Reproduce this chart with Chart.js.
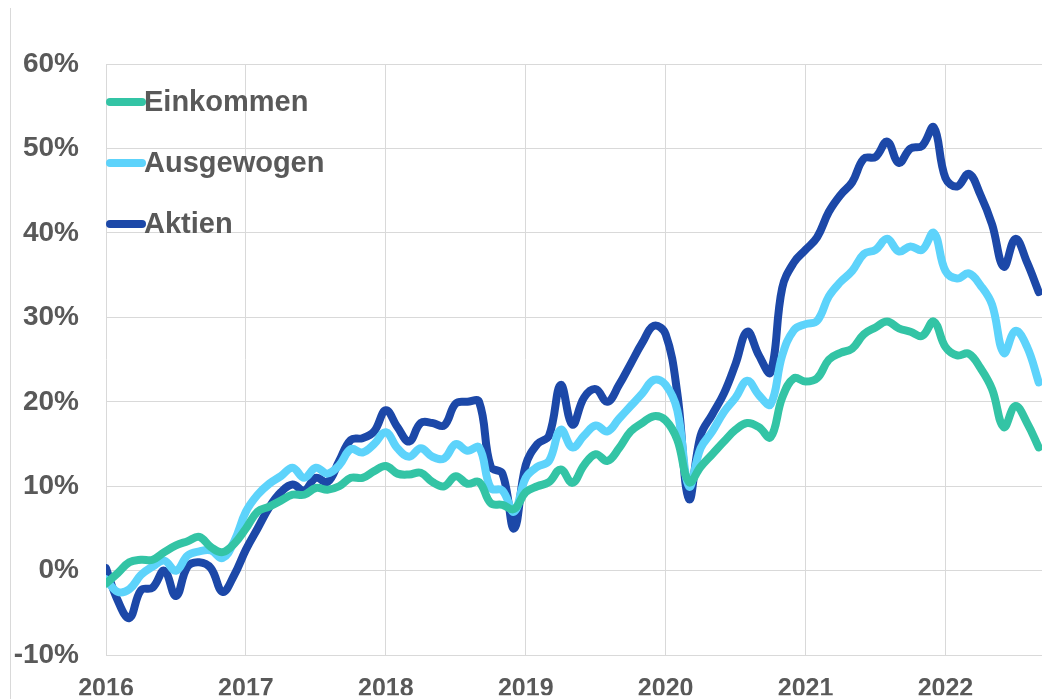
<!DOCTYPE html>
<html>
<head>
<meta charset="utf-8">
<script src="https://cdn.jsdelivr.net/npm/chart.js@4/dist/chart.umd.min.js"></script>
<style>
  html, body { margin: 0; padding: 0; background: #fff; }
  #wrap { position: relative; width: 1042px; height: 699px; }
  #edge { position: absolute; left: 10px; top: 8px; width: 1px; height: 691px; background: #d9d9d9; }
</style>
</head>
<body>
<div id="wrap">
  <div id="edge"></div>
  <canvas id="chart" width="1042" height="699"></canvas>
</div>
<script>
// monthly values, Jan 2016 .. Sep 2022 (cumulative return in %)
const startYear = 2016;
const yearTicks = [2016, 2017, 2018, 2019, 2020, 2021, 2022];

const einkommen = [
  -1.5, -0.3, 1.0, 1.3, 1.3, 2.2, 3.0, 3.5, 4.0, 2.8, 2.2, 3.2,
  5.0, 7.0, 7.6, 8.3, 9.0, 9.0, 9.8, 9.6, 10.0, 11.0, 11.0, 11.8,
  12.4, 11.5, 11.4, 11.6, 10.5, 10.0, 11.2, 10.3, 10.5, 8.0, 7.8, 7.3,
  9.3, 10.0, 10.5, 12.0, 10.4, 12.5, 13.8, 13.0, 14.5, 16.5, 17.5, 18.3,
  17.8, 15.5, 10.5, 12.3, 13.8, 15.3, 16.7, 17.5, 17.0, 15.8, 20.5, 22.8,
  22.4, 22.8, 25.0, 25.8, 26.3, 28.0, 28.8, 29.5, 28.7, 28.3, 27.8, 29.5,
  26.5, 25.5, 25.7, 24.0, 21.5, 17.0, 19.5, 17.5, 14.6
];
const ausgewogen = [
  -1.0, -2.5, -2.2, -0.5, 0.5, 1.2, 0.0, 1.8, 2.3, 2.4, 1.5, 3.5,
  7.0, 9.0, 10.3, 11.2, 12.2, 11.0, 12.2, 11.5, 12.5, 14.4, 14.0, 15.0,
  16.4, 14.5, 13.5, 14.5, 13.5, 13.3, 15.0, 14.2, 14.6, 9.8, 9.5, 7.0,
  11.0, 12.3, 13.0, 16.7, 14.6, 16.0, 17.2, 16.5, 18.0, 19.5, 21.0, 22.6,
  22.0, 19.0, 10.0, 14.5, 16.5, 18.8, 20.5, 22.5, 20.8, 19.7, 25.5, 28.5,
  29.2, 29.6, 32.5, 34.2, 35.5, 37.5, 38.0, 39.3, 37.8, 38.4, 38.0, 40.0,
  35.5, 34.6, 35.2, 33.8, 31.5, 25.8, 28.4, 26.5, 22.3
];
const aktien = [
  0.3, -3.5, -5.6, -2.3, -2.0, 0.0, -3.0, 0.5, 1.0, 0.3, -2.5, -0.5,
  2.5, 5.0, 7.5, 9.3, 10.2, 9.5, 11.0, 10.5, 13.0, 15.5, 15.7, 16.5,
  19.0, 17.0, 15.3, 17.5, 17.5, 17.2, 19.8, 20.0, 20.0, 12.3, 11.5, 5.0,
  12.5, 15.0, 16.0, 22.0, 17.3, 20.5, 21.5, 20.0, 22.0, 24.5, 27.0, 29.0,
  28.0, 21.0, 8.5, 16.0, 18.5, 21.0, 24.5, 28.3, 25.5, 23.5, 33.5, 36.5,
  38.0, 39.5, 42.5, 44.5, 46.0, 48.8, 49.0, 50.8, 48.3, 50.0, 50.3, 52.5,
  46.5, 45.5, 47.0, 44.5, 41.0, 36.0, 39.3, 36.5, 33.0
];

const seriesNames = ['Einkommen', 'Ausgewogen', 'Aktien'];
const seriesColors = ['#33c4a5', '#5dd3fb', '#1c48a8'];
const seriesValues = [einkommen, ausgewogen, aktien];

const textColor = '#595959';
const gridColor = '#d9d9d9';

const toPoints = (vals) => vals.map((v, i) => ({ x: startYear + i / 12, y: v }));

// legend drawn inside the plot, top-left
const innerLegend = {
  id: 'innerLegend',
  afterDraw(chart) {
    const { ctx, chartArea } = chart;
    ctx.save();
    ctx.font = 'bold 29px "Liberation Sans", Arial, sans-serif';
    ctx.textBaseline = 'middle';
    chart.data.datasets.forEach((ds, i) => {
      const y = chartArea.top + 38 + i * 61;
      const x = chartArea.left + 4;
      ctx.strokeStyle = ds.borderColor;
      ctx.lineWidth = 8;
      ctx.lineCap = 'round';
      ctx.beginPath();
      ctx.moveTo(x, y);
      ctx.lineTo(x + 32, y);
      ctx.stroke();
      ctx.fillStyle = textColor;
      ctx.fillText(ds.label, x + 34, y + 1);
    });
    ctx.restore();
  }
};

new Chart(document.getElementById('chart'), {
  type: 'line',
  data: {
    datasets: seriesNames.map((name, i) => ({
      label: name,
      data: toPoints(seriesValues[i]),
      borderColor: seriesColors[i],
      backgroundColor: seriesColors[i],
      borderWidth: 8,
      pointRadius: 0,
      tension: 0.4,
      borderCapStyle: 'round',
      borderJoinStyle: 'round'
    }))
  },
  options: {
    responsive: false,
    animation: false,
    layout: { padding: { top: 64, right: 0, left: 0, bottom: 0 } },
    plugins: {
      legend: { display: false },
      tooltip: { enabled: false }
    },
    scales: {
      x: {
        type: 'linear',
        min: 2016,
        max: 2022.69,
        afterBuildTicks: (s) => { s.ticks = yearTicks.map(v => ({ value: v })); },
        afterFit: (s) => { s.height = 40; },
        grid: { color: gridColor, lineWidth: 1, drawTicks: false },
        border: { display: false },
        ticks: {
          padding: 19,
          color: textColor,
          font: { family: '"Liberation Sans Narrow", "Liberation Sans", Arial, sans-serif', size: 25, weight: 'bold' },
          callback: (v) => String(v)
        }
      },
      y: {
        min: -10,
        max: 60,
        afterFit: (s) => { s.width = 106; },
        grid: { color: gridColor, lineWidth: 1, drawTicks: false },
        border: { display: false },
        ticks: {
          stepSize: 10,
          padding: 27,
          color: textColor,
          font: { family: '"Liberation Sans", Arial, sans-serif', size: 28, weight: 'bold' },
          callback: (v) => v + '%'
        }
      }
    }
  },
  plugins: [innerLegend]
});
</script>
</body>
</html>
